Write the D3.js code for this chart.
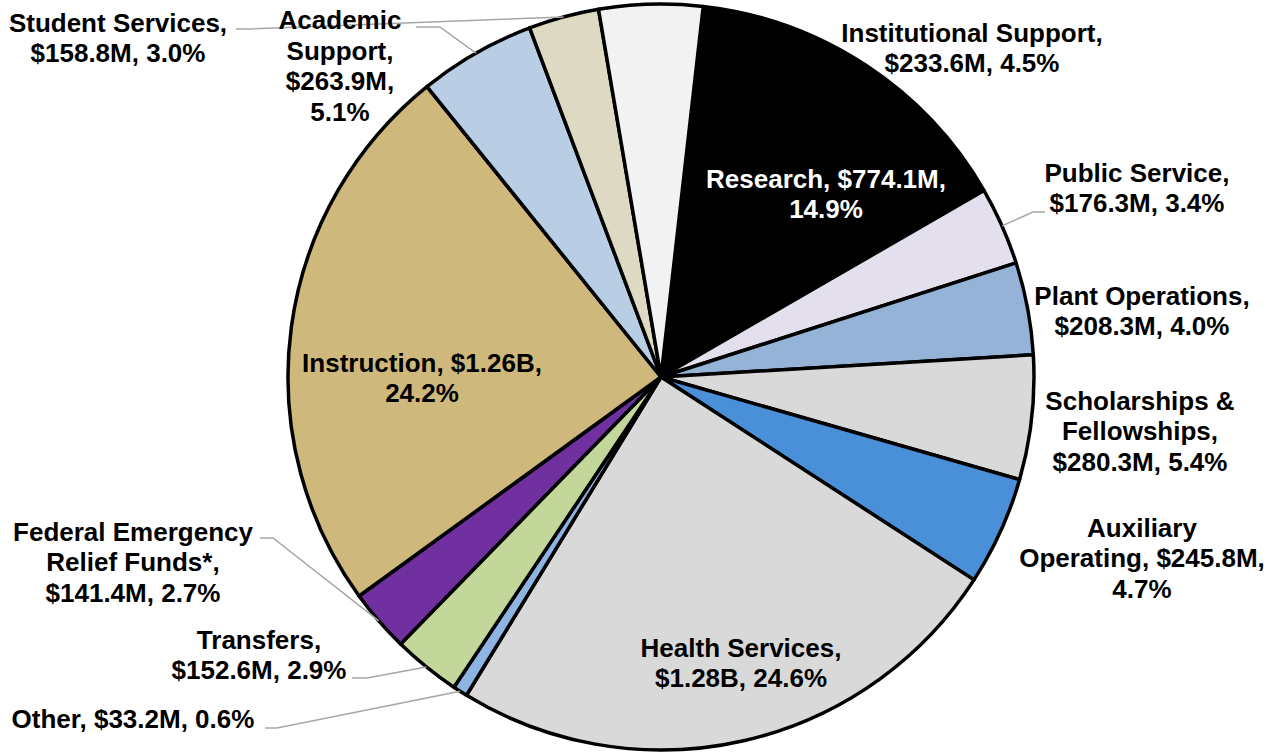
<!DOCTYPE html>
<html>
<head>
<meta charset="utf-8">
<script src="https://cdn.jsdelivr.net/npm/d3@7"></script>
<style>
  body { margin: 0; background: #fff; }
  svg text { font-family: "Liberation Sans", Arial, sans-serif; font-weight: bold; }
</style>
</head>
<body>
<svg width="1279" height="754"></svg>
<script>
// expenses by category, $M, in slice order (clockwise)
var categories = ["Research", "Public Service", "Plant Operations", "Scholarships & Fellowships",
                  "Auxiliary Operating", "Health Services", "Other", "Transfers",
                  "Federal Emergency Relief Funds*", "Instruction", "Academic Support",
                  "Student Services", "Institutional Support"];
var values = [774.1, 176.3, 208.3, 280.3, 245.8, 1280, 33.2, 152.6, 141.4, 1260, 263.9, 158.8, 233.6];
var colors = ["#000000", "#e4dfec", "#95b3d7", "#d9d9d9", "#4a90d9", "#d9d9d9", "#8db4e2",
              "#c4d79b", "#7030a0", "#cfb87c", "#b9cde5", "#ddd9c3", "#f2f2f2"];
// words per label line
var wrap = [[2, 1], [2, 2], [2, 2], [2, 1, 2], [1, 2, 1], [2, 2], [3], [1, 2], [2, 2, 2], [2, 1], [1, 1, 1, 1], [2, 2], [2, 2]];

// label layout: block centre, and leader start/elbow (null = no leader)
var labelPos = [[826, 194], [1137, 188], [1142, 311], [1140, 431], [1142, 558], [741, 663],
                [133, 719], [259, 655], [133, 562], [422, 378], [340, 66], [118, 38], [972, 48]];
var leaders = [null, [[1045, 212], [1033, 212]], null, null, null, null,
               [[265, 728], [277, 728]], [[352, 678], [367, 678]], [[260, 538], [273, 538]],
               null, [[416, 27], [440, 27]], [[236, 29], [250, 29]], null];

var svg = d3.select("svg");
var cx = 661, cy = 377, r = 373;
var total = d3.sum(values);
var lineH = 30.5;
var start = 6.5 * Math.PI / 180;

var fmtVal = function(v) {
	return v >= 1000 ? "$" + (v / 1000).toFixed(2) + "B" : "$" + v.toFixed(1) + "M";
};

var data = categories.map(function(c, i) {
	return {name: c, value: values[i], color: colors[i], i: i};
});

var pie = d3.pie()
	.sort(null)
	.value(function(d) { return d.value; })
	.startAngle(start)
	.endAngle(start + 2 * Math.PI);

var arc = d3.arc().innerRadius(0).outerRadius(r);
var arcs = pie(data);

var g = svg.append("g").attr("transform", "translate(" + cx + "," + cy + ")");

g.selectAll("path.slice")
	.data(arcs)
	.enter()
	.append("path")
	.attr("class", "slice")
	.attr("d", arc)
	.attr("fill", function(d) { return d.data.color; })
	.attr("stroke", "#000")
	.attr("stroke-width", 3.5)
	.attr("stroke-linejoin", "round");

// leader lines to the middle of each slice's outer edge
arcs.forEach(function(a, i) {
	if (!leaders[i]) return;
	var mid = (a.startAngle + a.endAngle) / 2;
	var end = [cx + r * Math.sin(mid), cy - r * Math.cos(mid)];
	var pts = leaders[i].concat([end]);
	svg.append("path")
		.attr("d", d3.line()(pts))
		.attr("fill", "none")
		.attr("stroke", "#a6a6a6")
		.attr("stroke-width", 1.5);
});

// labels
arcs.forEach(function(a, i) {
	var v = a.data.value;
	var words = (a.data.name + ", " + fmtVal(v) + ", " + (v / total * 100).toFixed(1) + "%").split(" ");
	var lines = [], k = 0;
	wrap[i].forEach(function(n) {
		lines.push(words.slice(k, k + n).join(" "));
		k += n;
	});
	var t = svg.append("text")
		.attr("text-anchor", "middle")
		.attr("font-size", "26px")
		.attr("fill", i === 0 ? "#fff" : "#000");
	var y0 = labelPos[i][1] - (lines.length - 1) * lineH / 2;
	lines.forEach(function(l, j) {
		t.append("tspan")
			.attr("x", labelPos[i][0])
			.attr("y", y0 + j * lineH)
			.attr("dy", "0.35em")
			.text(l);
	});
});
</script>
</body>
</html>
